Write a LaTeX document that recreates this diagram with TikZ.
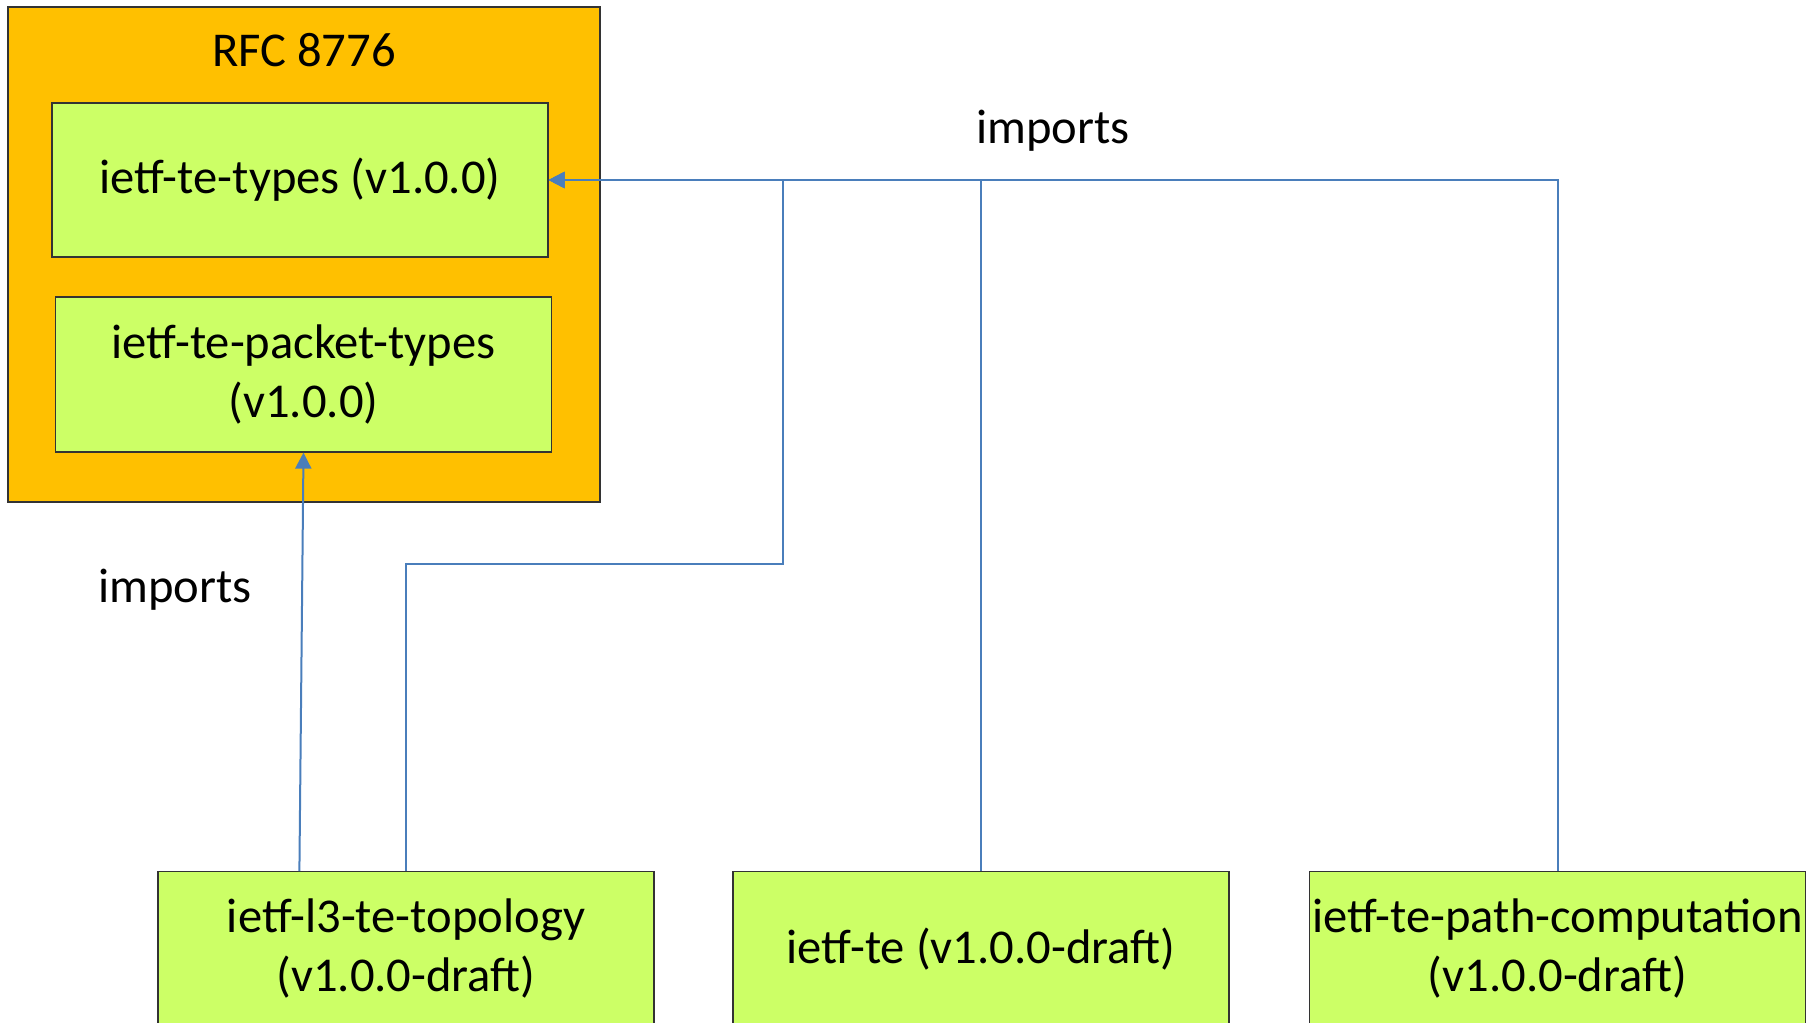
\documentclass[tikz,border=0pt]{standalone}
\usepackage{fontspec}
\setmainfont{Carlito}
\usetikzlibrary{arrows.meta,positioning,calc}
\definecolor{rfcorange}{HTML}{FFC000}
\definecolor{modgreen}{HTML}{CCFF66}
\definecolor{impblue}{HTML}{4A7EBB}
\tikzset{
  module/.style={draw=black!80,fill=modgreen,line width=0.6pt,minimum width=248pt,
    minimum height=77pt,inner sep=0pt,align=center,font=\fontsize{24.3}{29.5}\selectfont},
  imp/.style={impblue,line width=1pt,-{Triangle[length=8pt,width=8pt]}},
  lbl/.style={font=\fontsize{24.3}{29.5}\selectfont}
}
\begin{document}
\begin{tikzpicture}[x=0.5pt,y=-0.5pt]
       \useasboundingbox (0,0) rectangle (1808,1022);
       \node[draw=black!80,fill=rfcorange,line width=0.6pt,minimum width=296pt,minimum height=247.5pt,inner sep=0pt] (rfc) at (304,254.5) {};
       \node[lbl] (rfclabel) at (304,50) {RFC 8776};
       \node[module] (types) at (300,180) {ietf-te-types (v1.0.0)};
       \node[module,minimum height=77.5pt] (packet) at (303.5,374.5) {ietf-te-packet-types\\(v1.0.0)};
       \node[module,anchor=north] (l3) at (406,871) {ietf-l3-te-topology\\(v1.0.0-draft)};
       \node[module,anchor=north] (te) at (981,871) {ietf-te (v1.0.0-draft)};
       \node[module,anchor=north] (path) at (1557.5,871) {ietf-te-path-computation\\(v1.0.0-draft)};
       \coordinate (bend) at (783,564);
       \coordinate (l3src) at ($(l3.north west)+(142,0)$);
       \draw[imp] (l3.north) |- (bend) |- (types.east);
       \draw[imp] (te.north) |- (types.east);
       \draw[imp] (path.north) |- (types.east);
       \draw[imp] (l3src) -- (packet.south);
       \node[lbl] (imptop) at (1053,131) {imports};
       \node[lbl] (impleft) at (175,590) {imports};
     \end{tikzpicture}
\end{document}
